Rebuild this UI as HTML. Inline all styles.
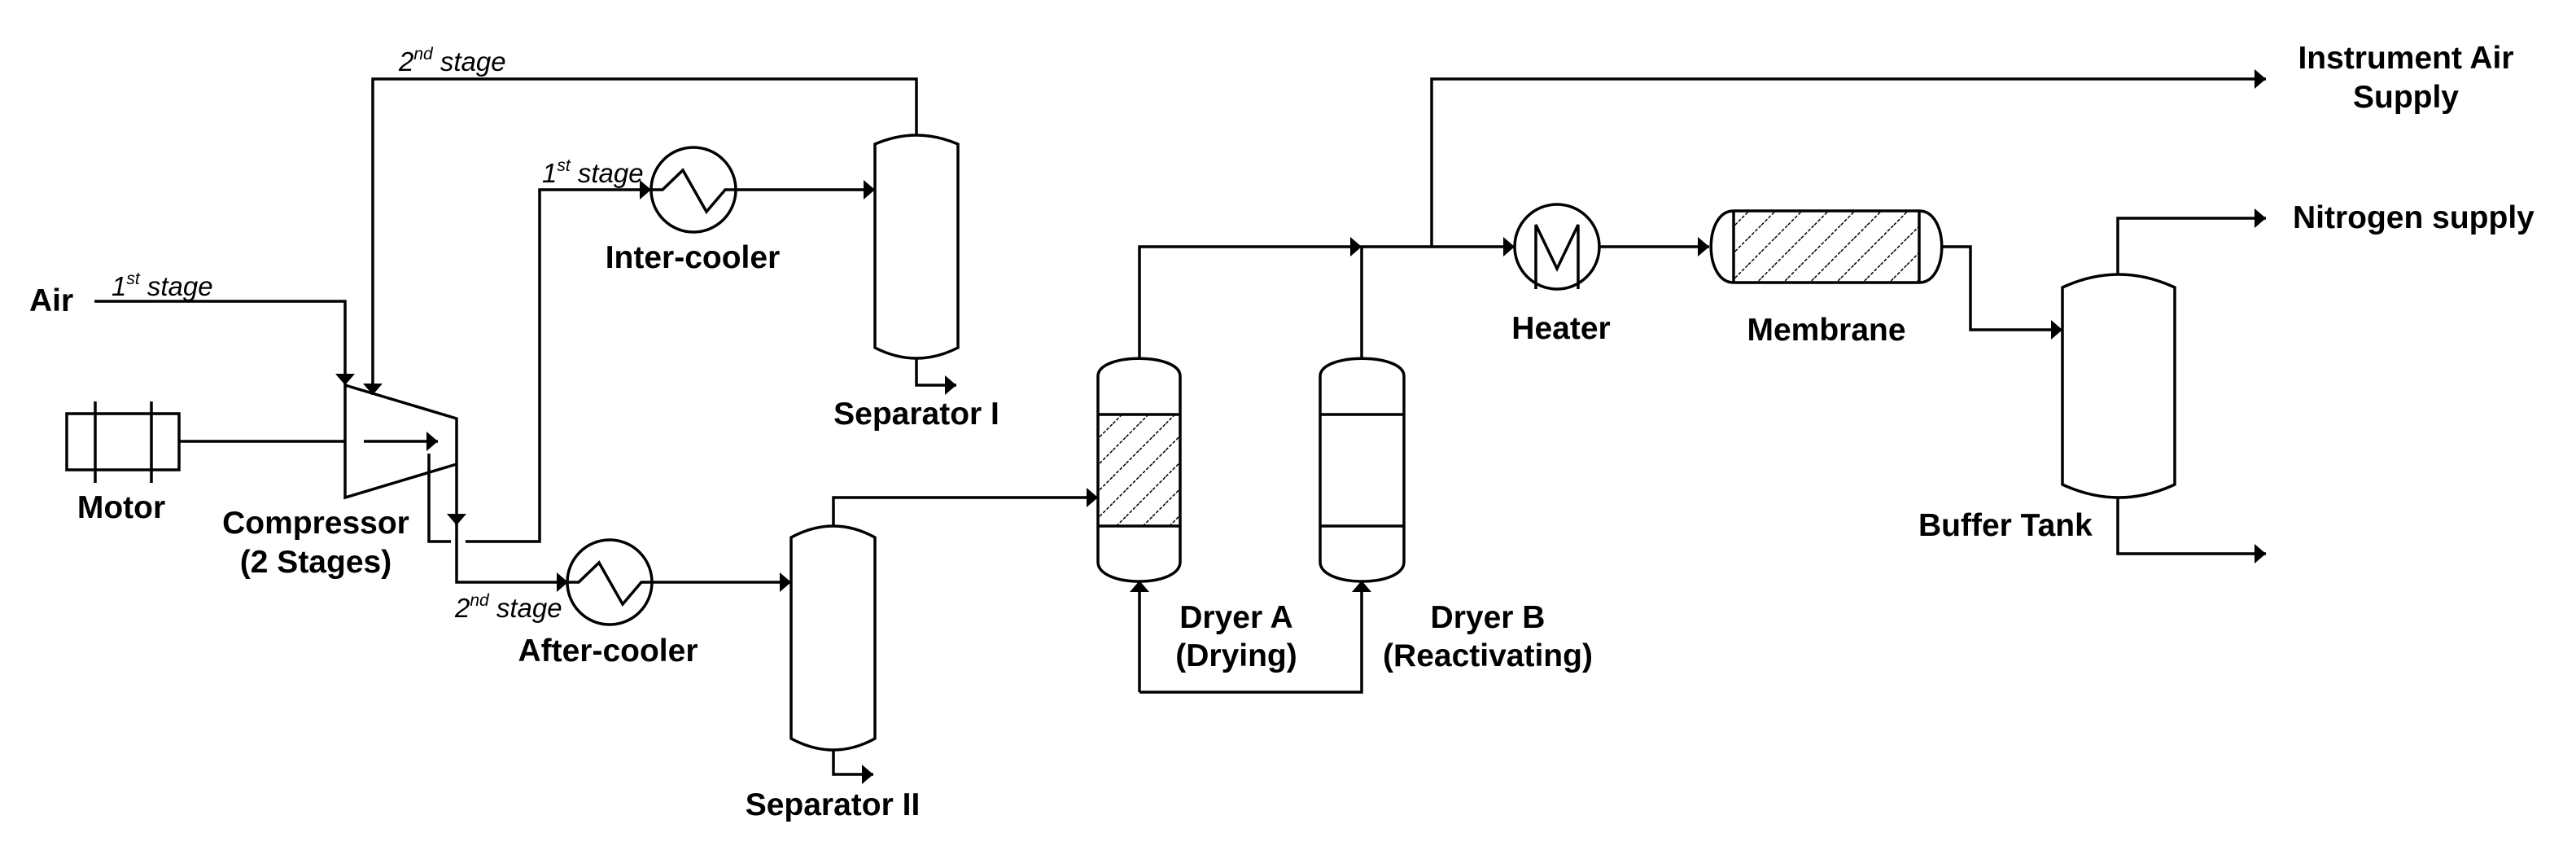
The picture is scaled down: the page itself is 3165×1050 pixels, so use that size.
<!DOCTYPE html>
<html><head><meta charset="utf-8"><style>
html,body{margin:0;padding:0;background:#fff}
svg{display:block}
text{font-family:"Liberation Sans",Arial,sans-serif;fill:#000}
.b{font-weight:bold;font-size:39px}
.i{font-style:italic;font-size:33px}
.s{font-style:italic;font-size:21px}
</style></head><body>
<svg width="3165" height="1050" viewBox="0 0 3165 1050" xmlns="http://www.w3.org/2000/svg">
<defs>
<marker id="a" markerUnits="userSpaceOnUse" markerWidth="16" markerHeight="26" refX="15" refY="13" orient="auto">
<path d="M1,1 L15,13 L1,25 Z" fill="#000"/></marker>
<pattern id="h" patternUnits="userSpaceOnUse" width="23" height="23" patternTransform="rotate(45)">
<line x1="0" y1="0" x2="0" y2="23" stroke="#000" stroke-width="3" stroke-dasharray="4 2"/></pattern>
</defs>
<g fill="none" stroke="#000" stroke-width="3.5">
<rect x="82" y="508" width="138" height="69"/>
<line x1="117" y1="493" x2="117" y2="593"/><line x1="186" y1="493" x2="186" y2="593"/>
<line x1="220" y1="542" x2="424" y2="542"/>
<path d="M424,473 L561,514 L561,570 L424,611 Z"/>
<line x1="447" y1="542" x2="538" y2="542" marker-end="url(#a)"/>
<polyline points="116,370 424,370 424,473" marker-end="url(#a)"/>
<polyline points="1126,166 1126,97 458,97 458,485" marker-end="url(#a)"/>
<polyline points="527,557 527,665 554,665"/>
<polyline points="572,665 663,665 663,233 800,233" marker-end="url(#a)"/>
<line x1="561" y1="570" x2="561" y2="645" marker-end="url(#a)"/>
<polyline points="561,640 561,715 698,715" marker-end="url(#a)"/>
<circle cx="852" cy="233" r="52"/>
<polyline points="800,233 814,233 839,209 868,260 891,233 904,233"/>
<line x1="904" y1="233" x2="1075" y2="233" marker-end="url(#a)"/>
<circle cx="749" cy="715" r="52"/>
<polyline points="698,715 711,715 736,691 765,742 788,715 801,715"/>
<line x1="801" y1="715" x2="972" y2="715" marker-end="url(#a)"/>
<path d="M1075,177 Q1126,155 1177,177 L1177,427 Q1126,453 1075,427 Z"/>
<polyline points="1126,440 1126,473 1175,473" marker-end="url(#a)"/>
<path d="M972,660 Q1024,632 1075,660 L1075,907 Q1024,935 972,907 Z"/>
<polyline points="1024,646 1024,611 1349,611" marker-end="url(#a)"/>
<polyline points="1024,921 1024,951 1073,951" marker-end="url(#a)"/>
<rect x="1349" y="509" width="101" height="137" fill="url(#h)" stroke="none"/>
<path d="M1349,462 C1349,433 1450,433 1450,462 L1450,690 C1450,722 1349,722 1349,690 Z"/>
<line x1="1349" y1="509" x2="1450" y2="509"/><line x1="1349" y1="646" x2="1450" y2="646"/>
<path d="M1622,462 C1622,433 1725,433 1725,462 L1725,690 C1725,722 1622,722 1622,690 Z"/>
<line x1="1622" y1="509" x2="1725" y2="509"/><line x1="1622" y1="646" x2="1725" y2="646"/>
<polyline points="1400,440 1400,303 1673,303" marker-end="url(#a)"/>
<line x1="1673" y1="440" x2="1673" y2="303"/>
<line x1="1673" y1="303" x2="1861" y2="303" marker-end="url(#a)"/>
<polyline points="1759,303 1759,97 2784,97" marker-end="url(#a)"/>
<polyline points="1400,850 1400,713"  marker-end="url(#a)"/>
<polyline points="1400,850 1673,850 1673,713" marker-end="url(#a)"/>
<circle cx="1913" cy="303" r="52"/>
<polyline points="1887,355 1887,276 1913,330 1939,276 1939,355"/>
<line x1="1965" y1="303" x2="2100" y2="303" marker-end="url(#a)"/>
<rect x="2130" y="259" width="228" height="88" fill="url(#h)" stroke="none"/>
<path d="M2130,259 L2358,259 C2395,259 2395,347 2358,347 L2130,347 C2093,347 2093,259 2130,259 Z"/>
<line x1="2130" y1="259" x2="2130" y2="347"/><line x1="2358" y1="259" x2="2358" y2="347"/>
<polyline points="2386,303 2421,303 2421,405 2534,405" marker-end="url(#a)"/>
<path d="M2534,353 Q2603,321 2672,353 L2672,595 Q2603,627 2534,595 Z"/>
<polyline points="2602,337 2602,268 2784,268" marker-end="url(#a)"/>
<polyline points="2602,611 2602,680 2784,680" marker-end="url(#a)"/>
</g>
<text class="b" x="36" y="382">Air</text>
<text class="i" x="137" y="363">1<tspan class="s" dy="-14">st</tspan><tspan dy="14"> stage</tspan></text>
<text class="i" x="490" y="87">2<tspan class="s" dy="-14">nd</tspan><tspan dy="14"> stage</tspan></text>
<text class="i" x="666" y="224">1<tspan class="s" dy="-14">st</tspan><tspan dy="14"> stage</tspan></text>
<text class="i" x="559" y="758">2<tspan class="s" dy="-14">nd</tspan><tspan dy="14"> stage</tspan></text>
<text class="b" x="149" y="636" text-anchor="middle">Motor</text>
<text class="b" x="388" y="655" text-anchor="middle">Compressor</text>
<text class="b" x="388" y="703" text-anchor="middle">(2 Stages)</text>
<text class="b" x="851" y="329" text-anchor="middle">Inter-cooler</text>
<text class="b" x="747" y="812" text-anchor="middle">After-cooler</text>
<text class="b" x="1126" y="521" text-anchor="middle">Separator I</text>
<text class="b" x="1023" y="1001" text-anchor="middle">Separator II</text>
<text class="b" x="1519" y="771" text-anchor="middle">Dryer A</text>
<text class="b" x="1519" y="818" text-anchor="middle">(Drying)</text>
<text class="b" x="1828" y="771" text-anchor="middle">Dryer B</text>
<text class="b" x="1828" y="818" text-anchor="middle">(Reactivating)</text>
<text class="b" x="1918" y="416" text-anchor="middle">Heater</text>
<text class="b" x="2244" y="418" text-anchor="middle">Membrane</text>
<text class="b" x="2357" y="658">Buffer Tank</text>
<text class="b" x="2956" y="84" text-anchor="middle">Instrument Air</text>
<text class="b" x="2956" y="132" text-anchor="middle">Supply</text>
<text class="b" x="2817" y="280">Nitrogen supply</text>
</svg>
</body></html>
